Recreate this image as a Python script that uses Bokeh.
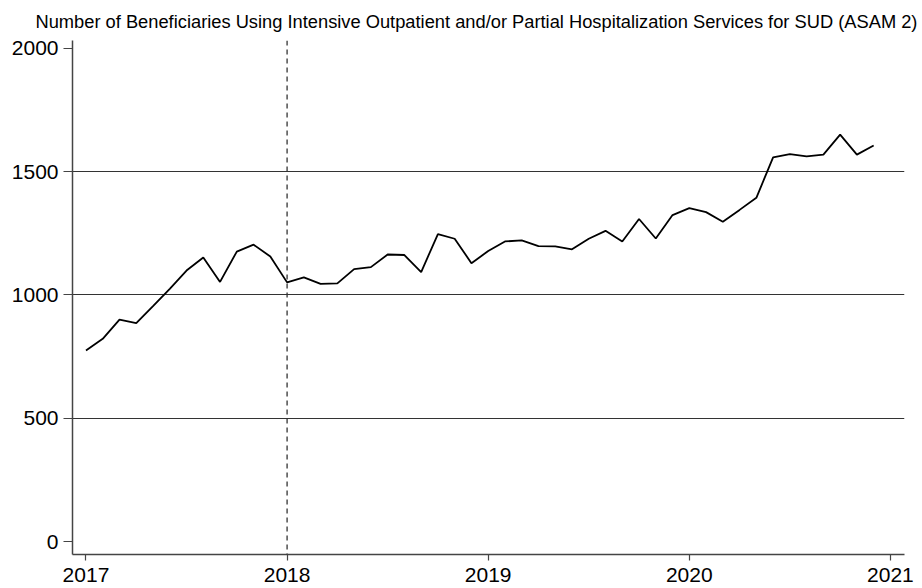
from bokeh.plotting import figure
from bokeh.models import FixedTicker, Span, ColumnDataSource, Range1d
from bokeh.embed import file_html
from bokeh.resources import INLINE

# Monthly data Jan 2017 .. Dec 2020
start_year = 2017
beneficiaries = [
    775, 822, 900, 886, 955, 1025, 1099, 1152, 1053, 1176, 1204, 1156,   # 2017
    1051, 1071, 1045, 1047, 1105, 1113, 1164, 1162, 1093, 1247, 1228, 1129,  # 2018
    1178, 1217, 1221, 1198, 1197, 1185, 1228, 1260, 1217, 1308, 1229, 1324,  # 2019
    1352, 1336, 1297, 1345, 1394, 1558, 1571, 1562, 1569, 1650, 1569, 1606,  # 2020
]
month_index = list(range(len(beneficiaries)))
x_ticks = [2017, 2018, 2019, 2020, 2021]
y_ticks = [0, 500, 1000, 1500, 2000]
grid_ticks = [500, 1000, 1500]
policy_year = 2018
title_text = ("Number of Beneficiaries Using Intensive Outpatient and/or "
              "Partial Hospitalization Services for SUD (ASAM 2)")

xs = [start_year + m / 12 for m in month_index]
source = ColumnDataSource(data=dict(x=xs, y=beneficiaries))

p = figure(width=922, height=588, output_backend="svg", toolbar_location=None,
           x_range=Range1d(2016.933, 2021.07), y_range=Range1d(-52.6, 2032),
           min_border_left=72, min_border_right=18, min_border_top=0,
           min_border_bottom=34)

p.title.text = title_text
p.title.align = "left"
p.title.offset = -37
p.title.text_font = "Liberation Sans"
p.title.text_font_size = "18.3px"
p.title.text_font_style = "normal"
p.title.text_color = "black"
p.title.standoff = 17

p.outline_line_color = None
p.background_fill_color = "white"
p.border_fill_color = "white"

p.line("x", "y", source=source, line_color="black", line_width=1.8)

p.add_layout(Span(location=policy_year, dimension="height", line_color="#333333",
                  line_width=1.3, line_dash="5 4"))

for ax in (p.xaxis[0], p.yaxis[0]):
    ax.axis_line_color = "#444444"
    ax.axis_line_width = 1.5
    ax.major_tick_line_color = "#444444"
    ax.major_tick_line_width = 1.2
    ax.major_tick_in = 0
    ax.minor_tick_line_color = None
    ax.major_label_text_font = "Liberation Sans"
    ax.major_label_text_font_size = "21px"
    ax.major_label_text_color = "black"

p.xaxis.ticker = FixedTicker(ticks=x_ticks)
p.yaxis.ticker = FixedTicker(ticks=y_ticks)
p.xaxis.major_tick_out = 6
p.xaxis.major_label_standoff = 7
p.yaxis.major_tick_out = 9
p.yaxis.major_label_standoff = 5
p.yaxis.major_label_orientation = "horizontal"

p.xgrid.grid_line_color = None
p.ygrid.ticker = FixedTicker(ticks=grid_ticks)
p.ygrid.grid_line_color = "#333333"
p.ygrid.grid_line_width = 1

open("out.html", "w").write(file_html(p, INLINE))
